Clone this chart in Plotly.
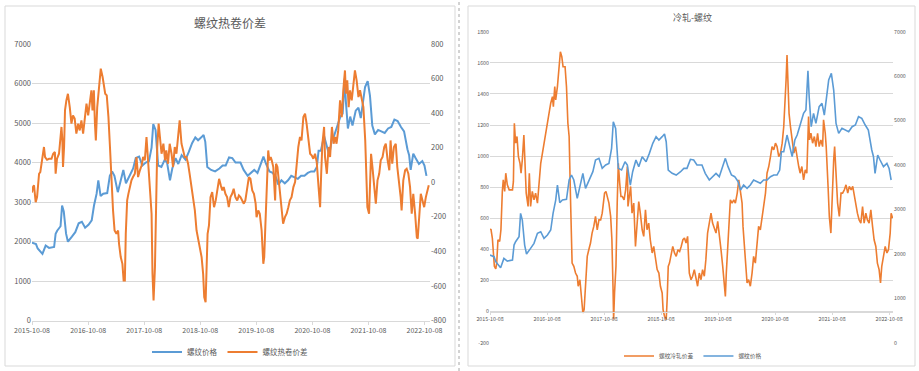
import plotly.graph_objects as go

# ---------------- data ----------------
rb_dates = [
    "2015-10-08", "2015-11-03", "2015-11-14", "2015-11-30", "2015-12-15",
    "2016-01-05", "2016-01-27", "2016-02-29", "2016-03-10", "2016-03-20", "2016-04-11", "2016-04-21",
    "2016-05-02", "2016-05-17", "2016-05-29", "2016-06-24", "2016-07-16", "2016-08-07", "2016-08-28",
    "2016-09-18", "2016-10-10", "2016-10-31", "2016-11-15", "2016-12-02", "2016-12-13", "2016-12-28",
    "2017-01-14", "2017-02-09", "2017-02-26", "2017-03-13", "2017-03-28", "2017-04-19", "2017-05-10",
    "2017-05-25", "2017-06-11", "2017-07-07", "2017-07-28", "2017-08-14", "2017-09-05", "2017-09-26",
    "2017-10-18", "2017-11-08", "2017-11-25", "2017-12-06", "2017-12-21",
    "2018-01-07", "2018-01-28", "2018-02-19", "2018-03-06", "2018-03-25", "2018-04-09", "2018-04-30",
    "2018-05-18", "2018-06-09", "2018-07-04", "2018-07-25", "2018-08-16", "2018-09-06", "2018-09-24",
    "2018-10-15", "2018-10-30", "2018-11-10", "2018-11-23", "2018-12-18",
    "2019-01-13", "2019-02-10", "2019-03-03", "2019-03-23", "2019-04-14", "2019-05-05", "2019-05-26",
    "2019-06-27", "2019-07-18", "2019-08-13", "2019-09-03", "2019-09-25", "2019-10-16", "2019-11-07",
    "2019-11-24", "2019-12-11",
    "2020-01-02", "2020-01-23", "2020-02-14", "2020-02-29", "2020-03-20", "2020-04-11", "2020-05-02",
    "2020-05-23", "2020-06-14", "2020-07-05", "2020-07-26", "2020-08-17", "2020-09-08", "2020-09-29",
    "2020-10-20", "2020-11-06", "2020-11-17", "2020-12-02", "2020-12-23",
    "2021-01-10", "2021-01-25", "2021-02-11", "2021-02-26", "2021-03-17", "2021-04-08", "2021-04-23",
    "2021-05-06", "2021-05-14", "2021-05-27", "2021-06-11", "2021-06-26", "2021-07-17", "2021-08-04",
    "2021-08-19", "2021-09-05", "2021-09-16", "2021-10-03", "2021-10-18", "2021-11-02", "2021-11-19",
    "2021-12-10",
    "2022-01-01", "2022-01-22", "2022-02-13", "2022-03-06", "2022-03-26", "2022-04-16", "2022-05-08",
    "2022-05-28", "2022-06-19", "2022-06-30", "2022-07-10", "2022-07-27", "2022-08-11", "2022-09-02",
    "2022-09-24", "2022-10-08", "2022-10-21",
]
rb_price = [
    1973, 1936, 1823, 1748, 1688,
    1898, 1838, 1861, 2198, 2273, 2386, 2911, 2761, 2198, 1996, 2123, 2236, 2461, 2498, 2348, 2423,
    2536, 2911, 3211, 3549, 3151,
    3211, 3226, 3662, 3774, 3662, 3249, 3549, 3812, 3474, 3662, 3849, 4112, 4149, 3924, 3999, 4036,
    4374, 4974, 4824,
    3924, 3887, 4074, 3999, 3549, 3849, 4112, 3962, 4187, 4074, 4262, 4487, 4637, 4562, 4637, 4697,
    4524, 3887, 3812,
    3774, 3849, 3924, 3924, 4127, 4112, 3999, 3999, 3812, 3662, 3737, 3812, 3737, 3962, 4149, 3962,
    3774, 3737, 3624, 3436, 3549, 3474, 3549, 3662, 3624, 3587, 3662, 3662, 3737, 3774, 3774, 3887,
    4299, 4299, 4674,
    4412, 4187, 4562, 4674, 4899, 5162, 5237, 6122, 5537, 4862, 5162, 4937, 5312, 5387, 5124, 5537,
    5912, 6062, 5687, 4937, 4712, 4824,
    4787, 4749, 4862, 4899, 5087, 5049, 4899, 4787, 4337, 4187, 3812, 4224, 4112, 3962, 4036, 3924,
    3662,
]

hc_dates = [
    "2015-10-08", "2015-10-14", "2015-10-21", "2015-11-01", "2015-11-10", "2015-11-23", "2015-12-01",
    "2015-12-14", "2015-12-25",
    "2016-01-01", "2016-01-14", "2016-01-27", "2016-02-12", "2016-02-23", "2016-03-05", "2016-03-10",
    "2016-03-19", "2016-04-01", "2016-04-10", "2016-04-17", "2016-04-23", "2016-04-27", "2016-05-04",
    "2016-05-10", "2016-05-19", "2016-05-29", "2016-06-10", "2016-06-21", "2016-07-01", "2016-07-12",
    "2016-07-23", "2016-08-04", "2016-08-14", "2016-08-25", "2016-09-05", "2016-09-17", "2016-09-27",
    "2016-10-08", "2016-10-19", "2016-10-29", "2016-11-05", "2016-11-14", "2016-11-21", "2016-11-27",
    "2016-12-06", "2016-12-14", "2016-12-23", "2016-12-29",
    "2017-01-10", "2017-01-19", "2017-01-27", "2017-02-06", "2017-02-17", "2017-02-27", "2017-03-08",
    "2017-03-19", "2017-03-29", "2017-04-10", "2017-04-21", "2017-04-27", "2017-05-08", "2017-05-19",
    "2017-05-27", "2017-06-04", "2017-06-10", "2017-06-19", "2017-06-27", "2017-07-06", "2017-07-17",
    "2017-07-27", "2017-08-08", "2017-08-19", "2017-08-29", "2017-09-10", "2017-09-21", "2017-10-01",
    "2017-10-12", "2017-10-23", "2017-11-03", "2017-11-14", "2017-11-25", "2017-12-01", "2017-12-08",
    "2017-12-17", "2017-12-23",
    "2018-01-01", "2018-01-10", "2018-01-19", "2018-01-29", "2018-02-10", "2018-02-21", "2018-03-01",
    "2018-03-12", "2018-03-23", "2018-04-04", "2018-04-14", "2018-04-25", "2018-05-06", "2018-05-17",
    "2018-05-27", "2018-06-08", "2018-06-19", "2018-06-29", "2018-07-10", "2018-07-21", "2018-07-31",
    "2018-08-12", "2018-08-23", "2018-09-03", "2018-09-14", "2018-09-25", "2018-10-06", "2018-10-17",
    "2018-10-27", "2018-11-03", "2018-11-12", "2018-11-19", "2018-11-25", "2018-12-04", "2018-12-14",
    "2018-12-25",
    "2019-01-06", "2019-01-17", "2019-01-27", "2019-02-08", "2019-02-19", "2019-03-01", "2019-03-10",
    "2019-03-21", "2019-04-01", "2019-04-12", "2019-04-23", "2019-05-04", "2019-05-14", "2019-05-25",
    "2019-06-06", "2019-06-17", "2019-06-27", "2019-07-08", "2019-07-19", "2019-07-29", "2019-08-10",
    "2019-08-21", "2019-08-31", "2019-09-12", "2019-09-23", "2019-10-04", "2019-10-10", "2019-10-21",
    "2019-10-31", "2019-11-12", "2019-11-23", "2019-11-29", "2019-12-06", "2019-12-14", "2019-12-25",
    "2020-01-01", "2020-01-10", "2020-01-17", "2020-01-27", "2020-02-08", "2020-02-14", "2020-02-23",
    "2020-03-01", "2020-03-10", "2020-03-21", "2020-03-31", "2020-04-12", "2020-04-23", "2020-05-04",
    "2020-05-14", "2020-05-25", "2020-06-06", "2020-06-17", "2020-06-27", "2020-07-08", "2020-07-19",
    "2020-07-29", "2020-08-10", "2020-08-21", "2020-08-31", "2020-09-12", "2020-09-23", "2020-10-04",
    "2020-10-14", "2020-10-25", "2020-11-05", "2020-11-17", "2020-11-27", "2020-12-04", "2020-12-12",
    "2020-12-23", "2020-12-29",
    "2021-01-10", "2021-01-21", "2021-01-31", "2021-02-12", "2021-02-23", "2021-03-05", "2021-03-14",
    "2021-03-25", "2021-04-06", "2021-04-17", "2021-04-27", "2021-05-08", "2021-05-14", "2021-05-23",
    "2021-06-01", "2021-06-10", "2021-06-21", "2021-07-01", "2021-07-12", "2021-07-23", "2021-08-04",
    "2021-08-14", "2021-08-25", "2021-09-05", "2021-09-17", "2021-09-23", "2021-10-01", "2021-10-12",
    "2021-10-19", "2021-10-25", "2021-11-03", "2021-11-14", "2021-11-25", "2021-12-06", "2021-12-17",
    "2021-12-27",
    "2022-01-08", "2022-01-19", "2022-01-29", "2022-02-10", "2022-02-21", "2022-03-01", "2022-03-12",
    "2022-03-23", "2022-04-04", "2022-04-14", "2022-04-25", "2022-05-06", "2022-05-12", "2022-05-23",
    "2022-06-04", "2022-06-14", "2022-06-25", "2022-07-06", "2022-07-17", "2022-07-27", "2022-08-08",
    "2022-08-19", "2022-08-25", "2022-09-03", "2022-09-14", "2022-09-25", "2022-10-06", "2022-10-17",
    "2022-10-27", "2022-11-05",
]
hc_spread = [
    -60, -28, -18, -115, -86, 49, 59, 146, 204,
    146, 130, 136, 136, 165, 175, 49, 136, 165, 262, 320, 242, 88, 204, 416, 474, 512, 435, 339, 387,
    368, 281, 339, 300, 358, 281, 397, 455, 387, 474, 532, 416, 532, 339, 242, 435, 532, 609, 657,
    609, 551, 512, 503, 377, 204, -9, -163, -279, -298, -279, -356, -433, -472, -568, -568, -298, -105,
    -67, -28, 11, 30, 49, 146, 30, 69, 97, 146, 127, 262, 127, 11, -182, -530, -684, -491, -105,
    204, 339, 242, 165, 223, 127, 184, 107, 223, 165, 88, 204, 165, 262, 358, 223, 175, 146, 146, 107,
    49, -28, -124, -163, -279, -337, -375, -433, -530, -665, -694, -510, -298, -250, -86, -57,
    -144, -105, -47, 20, -18, -47, -28, -67, -86, -144, -86, -67, -38, -86, -105, -76, -86, -105, -124,
    -105, -18, 30, 20, -47, -67, -124, -202, -163, -182, -279, -472, -433, -259, -67, 184,
    127, 146, 127, 88, -105, 107, 88, 30, -47, -144, -240, -202, -182, -144, -105, -86, -28, 1, 127,
    204, 262, 242, 377, 397, 339, 242, 165, 155, 136, 165, 117, -28, -144, 49, 223, 320, 146,
    49, 204, 146, 320, 223, 262, 223, 300, 474, 377, 532, 647, 512, 590, 435, 532, 474, 551, 647, 590,
    493, 532, 474, 435, 242, 49, -144, -182, -28, 165, 88, -28, -124, 11, 49, 127,
    146, 204, 223, 127, 69, 242, 107, 204, 223, 88, 11, -86, -163, 11, 69, 78, 49, -28, -182, -67,
    -182, -318, -327, -182, -67, -105, -144, -86, -47, -18,
]

cr_dates = [
    "2015-10-08", "2015-10-14", "2015-10-23", "2015-10-29", "2015-11-05", "2015-11-14", "2015-11-20",
    "2015-11-28", "2015-12-09", "2015-12-17", "2015-12-21", "2015-12-26",
    "2016-01-01", "2016-01-10", "2016-01-17", "2016-01-27", "2016-02-08", "2016-02-29", "2016-03-06",
    "2016-03-12", "2016-03-20", "2016-03-29", "2016-04-07", "2016-04-17", "2016-04-24", "2016-05-02",
    "2016-05-12", "2016-05-19", "2016-05-27", "2016-06-08", "2016-06-16", "2016-06-24", "2016-07-05",
    "2016-07-16", "2016-07-26", "2016-08-07", "2016-08-17", "2016-08-28", "2016-09-08", "2016-09-18",
    "2016-09-29", "2016-10-10", "2016-10-20", "2016-10-31", "2016-11-11", "2016-11-17", "2016-11-26",
    "2016-12-02", "2016-12-13", "2016-12-23",
    "2017-01-01", "2017-01-10", "2017-01-18", "2017-01-31", "2017-02-09", "2017-02-18", "2017-02-26",
    "2017-03-07", "2017-03-17", "2017-03-28", "2017-04-08", "2017-04-19", "2017-04-25", "2017-05-06",
    "2017-05-14", "2017-05-25", "2017-06-02", "2017-06-11", "2017-06-22", "2017-07-02", "2017-07-13",
    "2017-07-23", "2017-08-03", "2017-08-14", "2017-08-25", "2017-09-05", "2017-09-16", "2017-09-26",
    "2017-10-03", "2017-10-11", "2017-10-20", "2017-10-28", "2017-11-08", "2017-11-19", "2017-11-27",
    "2017-12-04", "2017-12-08", "2017-12-14", "2017-12-23", "2017-12-31",
    "2018-01-07", "2018-01-16", "2018-01-24", "2018-02-02", "2018-02-13", "2018-02-23", "2018-03-06",
    "2018-03-10", "2018-03-19", "2018-03-27", "2018-04-05", "2018-04-16", "2018-04-27", "2018-05-07",
    "2018-05-18", "2018-05-28", "2018-06-09", "2018-06-19", "2018-06-30", "2018-07-10", "2018-07-21",
    "2018-07-31", "2018-08-12", "2018-08-22", "2018-09-02", "2018-09-13", "2018-09-24", "2018-10-04",
    "2018-10-15", "2018-10-21", "2018-10-30", "2018-11-10", "2018-11-16", "2018-11-23", "2018-12-01",
    "2018-12-12", "2018-12-22",
    "2019-01-02", "2019-01-13", "2019-01-24", "2019-02-04", "2019-02-14", "2019-02-25", "2019-03-07",
    "2019-03-17", "2019-03-27", "2019-04-07", "2019-04-18", "2019-04-28", "2019-05-09", "2019-05-19",
    "2019-05-30", "2019-06-10", "2019-06-21", "2019-07-01", "2019-07-12", "2019-07-22", "2019-08-02",
    "2019-08-13", "2019-08-24", "2019-09-03", "2019-09-15", "2019-09-25", "2019-10-06", "2019-10-16",
    "2019-10-27", "2019-11-07", "2019-11-18", "2019-11-24", "2019-11-30", "2019-12-09", "2019-12-18",
    "2019-12-26",
    "2020-01-06", "2020-01-17", "2020-01-27", "2020-02-08", "2020-02-18", "2020-02-29", "2020-03-10",
    "2020-03-16", "2020-03-24", "2020-03-31", "2020-04-11", "2020-04-21", "2020-05-02", "2020-05-13",
    "2020-05-23", "2020-06-03", "2020-06-14", "2020-06-24", "2020-07-05", "2020-07-16", "2020-07-26",
    "2020-08-07", "2020-08-17", "2020-08-28", "2020-09-08", "2020-09-18", "2020-09-29", "2020-10-10",
    "2020-10-20", "2020-10-31", "2020-11-11", "2020-11-22", "2020-12-02", "2020-12-08", "2020-12-17",
    "2020-12-23", "2020-12-30",
    "2021-01-05", "2021-01-14", "2021-01-25", "2021-02-05", "2021-02-15", "2021-02-26", "2021-03-08",
    "2021-03-17", "2021-03-28", "2021-04-08", "2021-04-19", "2021-04-29", "2021-05-10", "2021-05-16",
    "2021-05-25", "2021-06-05", "2021-06-16", "2021-06-26", "2021-07-07", "2021-07-17", "2021-07-28",
    "2021-08-08", "2021-08-14", "2021-08-25", "2021-08-31", "2021-09-12", "2021-09-20", "2021-09-30",
    "2021-10-07", "2021-10-18", "2021-10-24", "2021-11-04", "2021-11-12", "2021-11-23", "2021-12-04",
    "2021-12-14", "2021-12-25",
    "2022-01-05", "2022-01-16", "2022-01-26", "2022-02-07", "2022-02-17", "2022-02-28", "2022-03-09",
    "2022-03-19", "2022-03-30", "2022-04-10", "2022-04-21", "2022-05-01", "2022-05-12", "2022-05-22",
    "2022-06-02", "2022-06-13", "2022-06-24", "2022-07-04", "2022-07-15", "2022-07-25", "2022-08-05",
    "2022-08-14", "2022-08-22", "2022-09-02", "2022-09-13", "2022-09-24", "2022-10-04", "2022-10-15",
    "2022-10-21", "2022-10-30",
]
cr_spread = [
    526, 531, 473, 377, 291, 274, 312, 462, 452, 526, 676, 773,
    847, 773, 890, 815, 783, 783, 837, 1211, 1083, 1126, 997, 954, 890, 976, 1136, 997, 762, 676, 890,
    676, 773, 719, 762, 698, 847, 954, 1019, 1083, 1126, 1201, 1275, 1340, 1382, 1318, 1447, 1361,
    1447, 1575,
    1671, 1639, 1575, 1575, 1447, 1211, 1126, 719, 312, 291, 248, 227, 163, 205, 98, -9, 13, 184, 355,
    398, 441, 505, 548, 612, 526, 590, 590, 633, 687, 762, 773, 740, 698, 612, 462, 163, -51, 120, 291,
    698,
    954, 826, 740, 740, 719, 783, 933, 676, 762, 805, 633, 698, 419, 548, 708, 633, 526, 484, 655, 526,
    569, 462, 377, 419, 334, 270, 248, 163, 120, 13, -30, -51, 77, 291, 312, 377, 419,
    377, 355, 398, 387, 419, 462, 473, 441, 484, 248, 205, 227, 270, 227, 163, 248, 205, 270, 227, 334,
    505, 569, 633, 569, 526, 505, 580, 505, 398, 291, 141, 98, 248, 419, 526, 719,
    698, 719, 698, 762, 847, 762, 698, 548, 419, 291, 184, 205, 163, 248, 355, 312, 462, 548, 526, 612,
    655, 762, 890, 933, 997, 1061, 1040, 1083, 1061, 997, 1019, 1083, 1190, 1361, 1489, 1650, 1404,
    1275, 1190, 1104, 1019, 1061, 976, 933, 890, 933, 847, 912, 890, 1254, 1104, 1147, 1083, 1126, 1061,
    1147, 1061, 1104, 1061, 1233, 1147, 1061, 805, 612, 505, 719, 976, 1061, 890, 698, 612, 762, 762,
    783,
    815, 762, 805, 783, 805, 740, 676, 633, 590, 569, 676, 569, 633, 590, 569, 655, 548, 462, 419, 312,
    270, 184, 291, 355, 419, 377, 398, 505, 633, 601,
]

year_ticks = ["2015-10-08", "2016-10-08", "2017-10-08", "2018-10-08",
              "2019-10-08", "2020-10-08", "2021-10-08", "2022-10-08"]
price_ticks = [0, 1000, 2000, 3000, 4000, 5000, 6000, 7000]
hc_ticks = [-800, -600, -400, -200, 0, 200, 400, 600, 800]
cr_ticks = [-200, 0, 200, 400, 600, 800, 1000, 1200, 1400, 1600, 1800]

# ---------------- styling ----------------
W, H = 919, 371
BLUE = "#5B9BD5"
ORANGE = "#ED7D31"
GRID = "#D9D9D9"
TXT = "#595959"
FONT = "Noto Sans CJK SC, Noto Sans, sans-serif"


def px_x(v):
    return v / W


def px_y(v):
    return 1 - v / H


fig = go.Figure()

# Left panel: 螺纹热卷价差
fig.add_trace(go.Scatter(x=rb_dates, y=rb_price, name="螺纹价格", mode="lines",
                         line=dict(color=BLUE, width=2), xaxis="x", yaxis="y",
                         legend="legend"))
fig.add_trace(go.Scatter(x=hc_dates, y=hc_spread, name="螺纹热卷价差", mode="lines",
                         line=dict(color=ORANGE, width=2), xaxis="x", yaxis="y2",
                         legend="legend"))
# Right panel: 冷轧-螺纹
fig.add_trace(go.Scatter(x=cr_dates, y=cr_spread, name="螺纹冷轧价差", mode="lines",
                         line=dict(color=ORANGE, width=1.6), xaxis="x2", yaxis="y3",
                         legend="legend2"))
fig.add_trace(go.Scatter(x=rb_dates, y=rb_price, name="螺纹价格", mode="lines",
                         line=dict(color=BLUE, width=1.6), xaxis="x2", yaxis="y4",
                         legend="legend2"))

left_dom_x = [px_x(32), px_x(430)]
left_dom_y = [px_y(320.5), px_y(44)]
right_dom_x = [px_x(490), px_x(893)]
right_dom_y = [px_y(342.7), px_y(31.7)]

fig.update_layout(
    width=W, height=H,
    margin=dict(l=0, r=0, t=0, b=0, autoexpand=False),
    paper_bgcolor="white", plot_bgcolor="white",
    font=dict(family=FONT, color=TXT),
    xaxis=dict(domain=left_dom_x, anchor="y", type="date", automargin=False,
               range=["2015-10-08", "2022-11-13"],
               tickvals=year_ticks, ticktext=year_ticks,
               tickfont=dict(size=7, color=TXT),
               showgrid=False, showline=True, linecolor=GRID, linewidth=1,
               ticks="outside", ticklen=3, tickcolor=GRID, zeroline=False),
    yaxis=dict(domain=left_dom_y, anchor="x", range=[0, 7000], automargin=False,
               tickvals=price_ticks, ticktext=[str(v) for v in price_ticks],
               tickfont=dict(size=7.5, color=TXT),
               showgrid=True, gridcolor=GRID, gridwidth=1, zeroline=False,
               showline=False, ticks=""),
    yaxis2=dict(overlaying="y", anchor="x", side="right", range=[-800, 800], automargin=False,
                tickvals=hc_ticks, ticktext=[str(v) for v in hc_ticks],
                tickfont=dict(size=7.5, color=TXT),
                showgrid=False, zeroline=False, showline=False, ticks=""),
    xaxis2=dict(domain=right_dom_x, anchor="free", position=px_y(311.6), type="date",
                automargin=False,
                range=["2015-10-08", "2022-11-02"],
                tickvals=year_ticks, ticktext=year_ticks,
                tickfont=dict(size=5.3, color=TXT),
                showgrid=False, showline=True, linecolor=GRID, linewidth=1,
                ticks="outside", ticklen=2, tickcolor=GRID, zeroline=False),
    yaxis3=dict(domain=right_dom_y, anchor="x2", range=[-200, 1800], automargin=False,
                tickvals=cr_ticks, ticktext=[str(v) for v in cr_ticks],
                tickfont=dict(size=5.3, color=TXT),
                showgrid=True, gridcolor=GRID, gridwidth=1, zeroline=False,
                showline=False, ticks=""),
    yaxis4=dict(overlaying="y3", anchor="x2", side="right", range=[0, 7000], automargin=False,
                tickvals=price_ticks, ticktext=[str(v) for v in price_ticks],
                tickfont=dict(size=5.3, color=TXT),
                showgrid=False, zeroline=False, showline=False, ticks=""),
    legend=dict(orientation="h", x=px_x(230), y=px_y(352), xanchor="center",
                yanchor="middle", font=dict(size=7.5, color=TXT), itemwidth=30,
                bgcolor="rgba(0,0,0,0)"),
    legend2=dict(orientation="h", x=px_x(693), y=px_y(356), xanchor="center",
                 yanchor="middle", font=dict(size=5.7, color=TXT), itemwidth=30,
                 bgcolor="rgba(0,0,0,0)"),
    showlegend=True,
)

fig.add_annotation(text="螺纹热卷价差", x=px_x(230), y=px_y(23), xref="paper", yref="paper",
                   showarrow=False, xanchor="center", yanchor="middle",
                   font=dict(size=12, color=TXT, family=FONT))
fig.add_annotation(text="冷轧-螺纹", x=px_x(692), y=px_y(17), xref="paper", yref="paper",
                   showarrow=False, xanchor="center", yanchor="middle",
                   font=dict(size=9, color=TXT, family=FONT))

# panel frames and separator
fig.add_shape(type="rect", xref="paper", yref="paper",
              x0=px_x(5), x1=px_x(455), y0=px_y(366), y1=px_y(6),
              line=dict(color=GRID, width=1), fillcolor="rgba(0,0,0,0)", layer="below")
fig.add_shape(type="rect", xref="paper", yref="paper",
              x0=px_x(468), x1=px_x(915), y0=px_y(366), y1=px_y(6),
              line=dict(color=GRID, width=1), fillcolor="rgba(0,0,0,0)", layer="below")
fig.add_shape(type="line", xref="paper", yref="paper",
              x0=px_x(459), x1=px_x(459), y0=0, y1=1,
              line=dict(color="#A6A6A6", width=1, dash="dot"))

fig.write_html(
    "out.html",
    config={"displayModeBar": False},
    post_script="document.body.style.margin='0';document.body.style.padding='0';"
                "document.body.style.overflow='hidden';",
)
